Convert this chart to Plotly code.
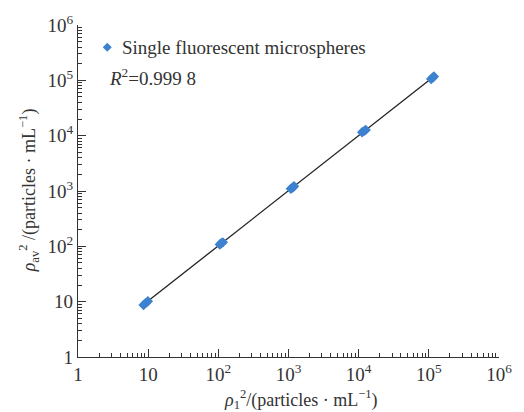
import numpy as np
import plotly.graph_objects as go

# Data (replicate measurements at each concentration level)
x_vals = [8.6, 9.2, 9.9, 105, 110, 116, 1080, 1150, 1200, 11200, 12000, 12600, 108000, 114000, 118000]
y_vals = [8.7, 9.4, 10.2, 108, 114, 118, 1100, 1160, 1220, 11500, 12200, 12700, 106000, 112000, 117000]
series_name = "Single fluorescent microspheres"
r2_text = "<i>R</i><sup>2</sup>=0.999 8"
tick_vals = [1, 10, 100, 1000, 10000, 100000, 1000000]
tick_text = ["1", "10", "10<sup>2</sup>", "10<sup>3</sup>", "10<sup>4</sup>", "10<sup>5</sup>", "10<sup>6</sup>"]
x_title = "<i>ρ</i><sub>1</sub><sup>2</sup>/(particles · mL<sup>−1</sup>)"
y_title = "<i>ρ</i><sub>av</sub><sup>2</sup> /(particles · mL<sup>−1</sup>)"

# linear fit in log space
lx, ly = np.log10(x_vals), np.log10(y_vals)
k, b = np.polyfit(lx, ly, 1)
fx = np.array([min(x_vals), max(x_vals)])
fy = 10 ** (k * np.log10(fx) + b)

FONT = "Liberation Serif, Times New Roman, serif"
TXT = "#333"
MCOL = "#3d82d0"
W, H = 524, 412
L, R, T, B = 78, 14, 15, 55
pw, ph = W - L - R, H - T - B

def px(xp):
    return (xp - L) / pw

def py(yp):
    return (H - B - yp) / ph

fig = go.Figure()
fig.add_trace(go.Scatter(x=fx, y=fy, mode="lines", line=dict(color="#222222", width=1.3),
                         showlegend=False, hoverinfo="skip"))
fig.add_trace(go.Scatter(x=x_vals, y=y_vals, mode="markers", name=series_name, showlegend=False,
                         marker=dict(symbol="diamond", size=8, color=MCOL)))

axis_common = dict(type="log", range=[0, 6], tickvals=tick_vals, ticktext=tick_text,
                   ticks="inside", ticklen=8, tickwidth=1, tickcolor=TXT,
                   showline=True, linecolor=TXT, linewidth=1.3, mirror=False,
                   showgrid=False, zeroline=False,
                   tickfont=dict(family=FONT, size=19, color=TXT),
                   minor=dict(ticks="inside", ticklen=4, tickcolor=TXT, dtick="D1", showgrid=False))
fig.update_xaxes(**axis_common)
fig.update_yaxes(**axis_common)

# legend (marker + label)
fig.add_shape(type="path", xref="paper", yref="paper", xsizemode="pixel", ysizemode="pixel",
              xanchor=px(108), yanchor=py(38), path="M 0 4.5 L 4.5 0 L 0 -4.5 L -4.5 0 Z",
              fillcolor=MCOL, line=dict(width=0))
fig.add_annotation(xref="paper", yref="paper", x=px(121), y=py(38), xanchor="left", yanchor="middle",
                   text=series_name, showarrow=False, font=dict(family=FONT, size=19, color=TXT))
fig.add_annotation(xref="paper", yref="paper", x=px(108), y=py(69), xanchor="left", yanchor="middle",
                   text=r2_text, showarrow=False, font=dict(family=FONT, size=19, color=TXT))

# axis titles
fig.add_annotation(xref="paper", yref="paper", x=px(307), y=py(401), xanchor="center", yanchor="middle",
                   text=x_title, showarrow=False, font=dict(family=FONT, size=18, color=TXT))
fig.add_annotation(xref="paper", yref="paper", x=px(27), y=py(185), xanchor="center", yanchor="middle",
                   text=y_title, textangle=-90, showarrow=False, font=dict(family=FONT, size=18, color=TXT))

fig.update_layout(width=W, height=H, margin=dict(l=L, r=R, t=T, b=B),
                  paper_bgcolor="white", plot_bgcolor="white", showlegend=False)
fig.write_html("out.html")
